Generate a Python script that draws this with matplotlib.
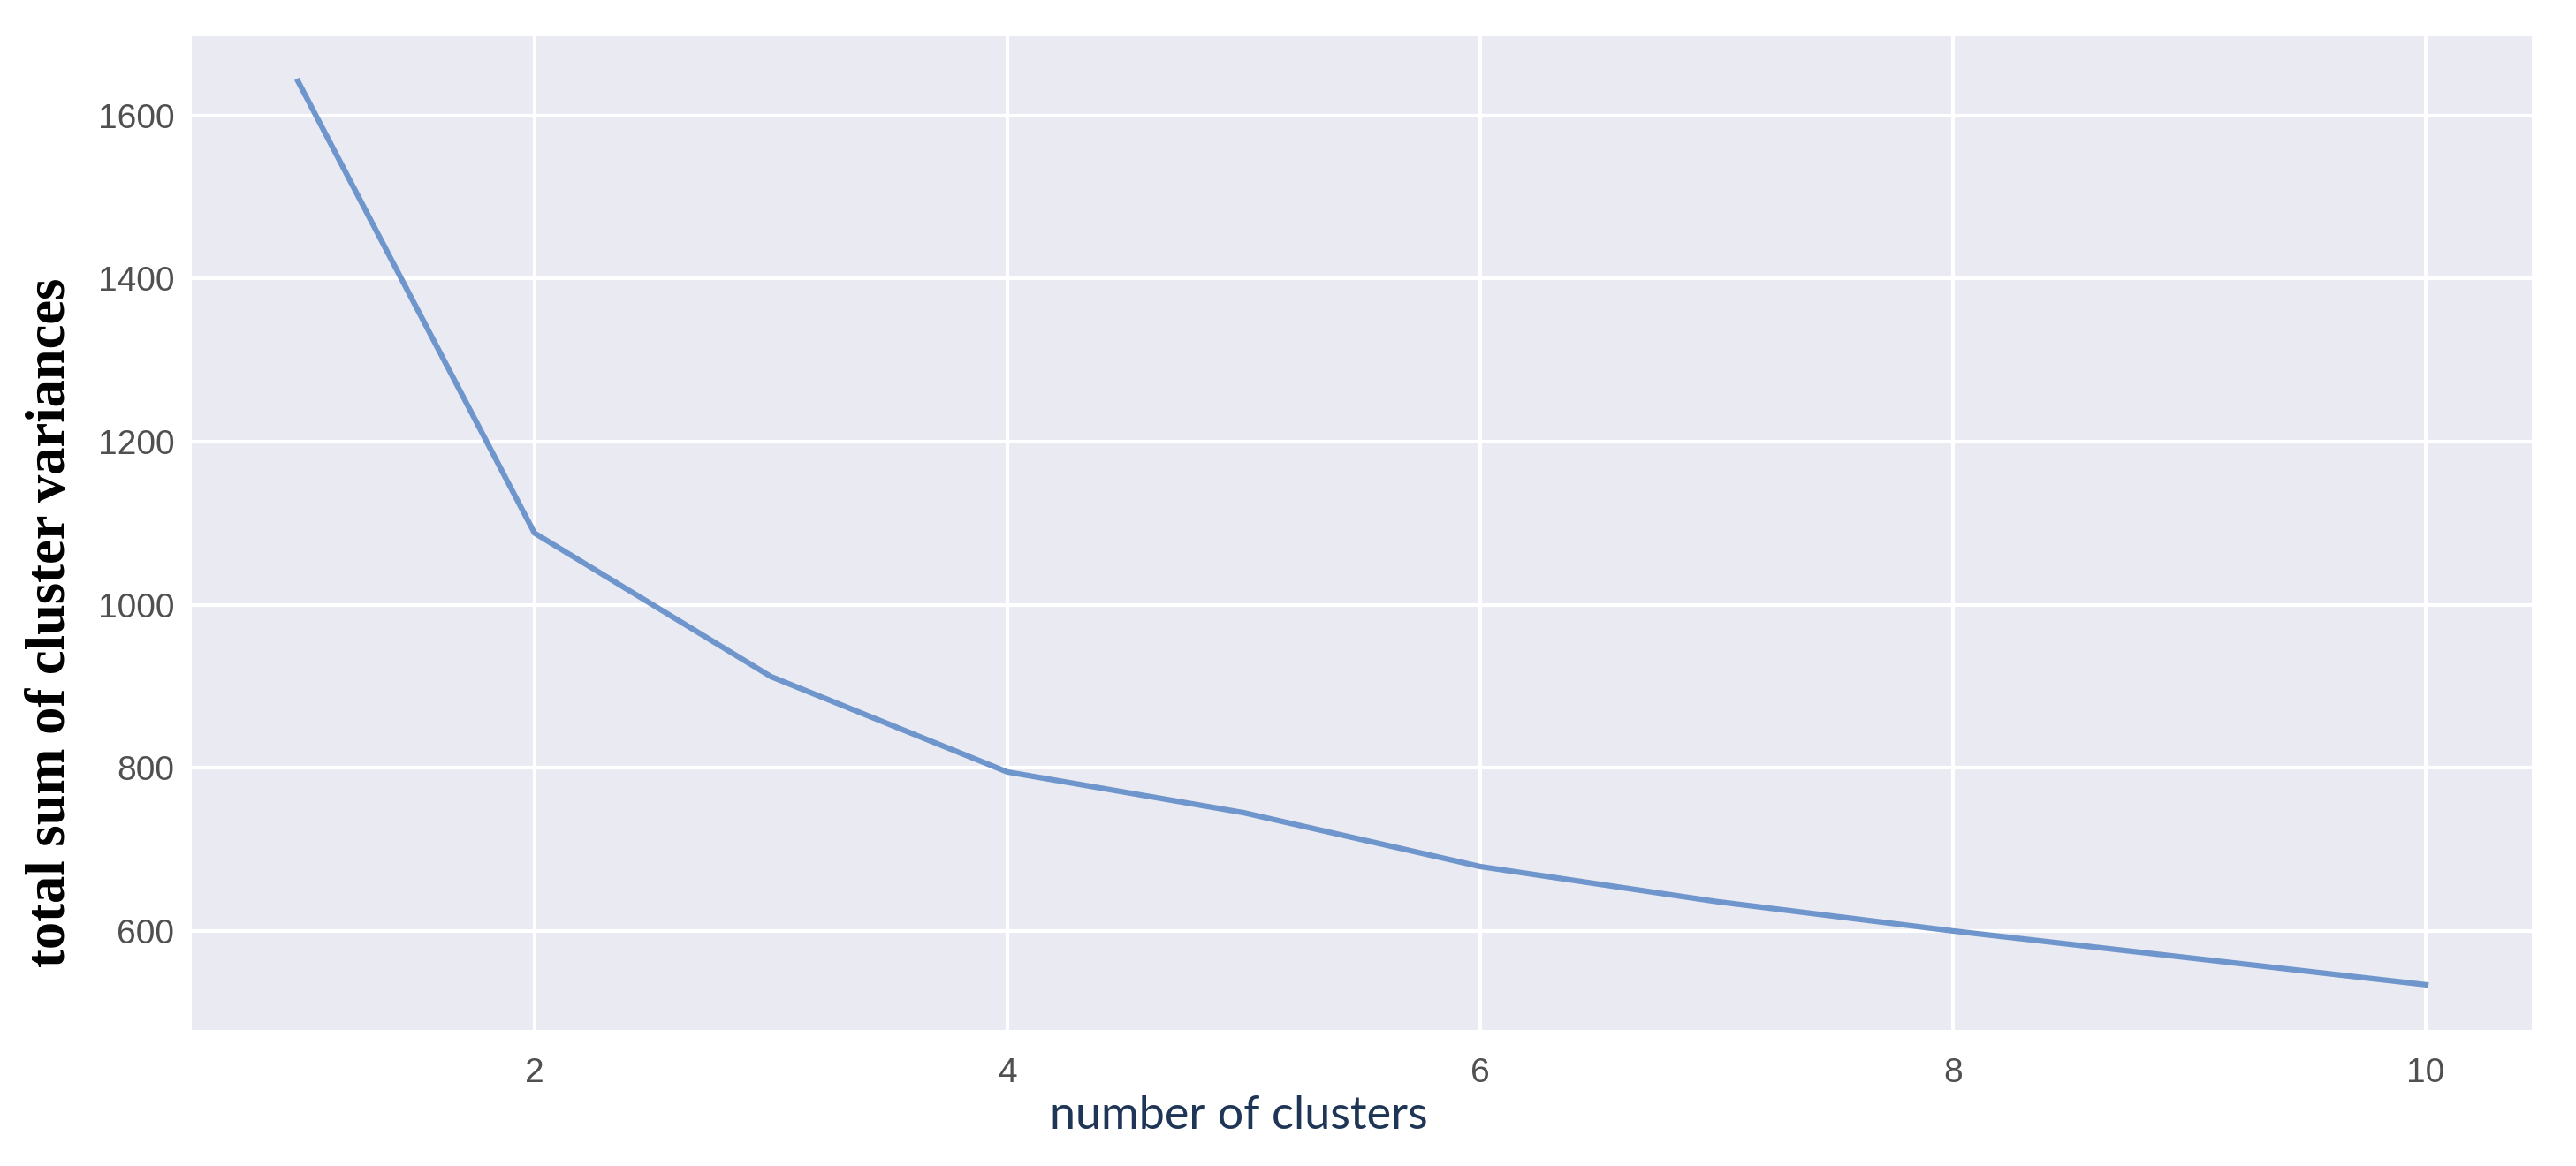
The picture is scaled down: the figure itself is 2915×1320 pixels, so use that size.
import matplotlib
matplotlib.use("Agg")
import matplotlib.pyplot as plt

# number of clusters vs. total within-cluster variance (elbow curve)
n_clusters = [1, 2, 3, 4, 5, 6, 7, 8, 9, 10]
total_variance = [1642, 1088, 912, 795, 745, 679, 636, 600, 567, 534]

fig = plt.figure(figsize=(29.15, 13.2), dpi=100)
ax = fig.add_axes([0.0744, 0.1167, 0.9086, 0.8523])

ax.set_facecolor('#EAEAF2')
for s in ax.spines.values():
    s.set_visible(False)
ax.grid(True, color='white', linewidth=3)
ax.set_axisbelow(True)

ax.plot(n_clusters, total_variance, color='#6F96CC', linewidth=4.5)

ax.set_xticks([2, 4, 6, 8, 10])
ax.set_yticks([600, 800, 1000, 1200, 1400, 1600])
ax.tick_params(axis='both', length=0, labelsize=28, labelcolor='#505050')
ax.tick_params(axis='x', pad=22)
ax.tick_params(axis='y', pad=14)
for lbl in ax.get_xticklabels() + ax.get_yticklabels():
    lbl.set_family('Liberation Sans')

ax.set_xlabel('number of clusters', fontsize=37.5, color='#1F3556',
              family='Lato')
ax.xaxis.set_label_coords(0.4475, -0.066)
ax.set_ylabel('total sum of cluster variances', fontsize=45, color='black',
              family='Liberation Serif', fontweight='bold')
ax.yaxis.set_label_coords(-0.049, 0.41)

fig.savefig('out.png', dpi=100, facecolor='white')
